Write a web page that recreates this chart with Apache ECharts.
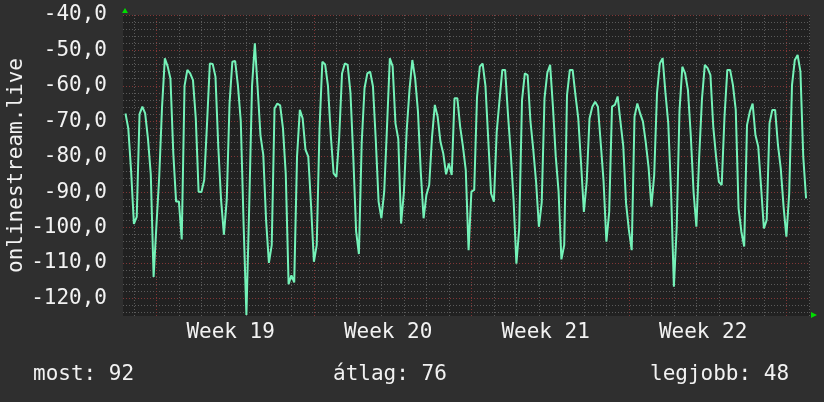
<!doctype html>
<html>
<head>
<meta charset="utf-8">
<title>onlinestream.live</title>
<script src="https://cdn.jsdelivr.net/npm/echarts@6/dist/echarts.min.js"></script>
<style>
    html, body { margin: 0; padding: 0; background: #2f2f2f; }
    #chart { width: 824px; height: 402px; }
</style>
</head>
<body>
<div id="chart"></div>
<script>
// one sample every 3 hours, x in days from the start of week 19
var startDay = -1.375;
var stepDay = 0.125;

// values, split per week
var week18 = [-67.8, -72, -84, -99, -97, -68, -65.9, -67.8, -75, -85, -114];
var week19 = [-99.5, -85.7, -66, -52.2, -54.5, -58, -79, -92.7,
    -92.7, -103.4, -60, -55.5, -56.5, -58.4, -69.2, -89.9,
    -90, -86.6, -70.6, -53.7, -53.8, -57.4, -77.2, -92.3,
    -102, -92.3, -65, -53.2, -53, -60, -70, -99,
    -124.7, -94, -60, -48, -60.7, -74, -79.5, -98,
    -110, -105, -66.4, -65, -65.5, -72, -85, -116,
    -113.5, -115.5, -80, -66.8, -69.2, -78, -80, -94];
var week20 = [-109.7, -105, -72, -53.2, -54, -60, -73.9, -84.7,
    -85.7, -74.4, -56.5, -53.7, -54.1, -62, -80, -101,
    -107.5, -76, -60.7, -56.5, -56, -60.2, -75.3, -92.7,
    -97.4, -89.9, -71.5, -52.2, -54.5, -70.6, -75, -98.9,
    -90, -72.5, -61, -52.7, -57.9, -67.3, -84.3, -97.4,
    -90.8, -88, -74.4, -65.4, -68.7, -75.8, -79.1, -85,
    -81.9, -85.2, -63.5, -63.5, -71.5, -77.2, -83.8, -106.4];
var week21 = [-89.9, -89.4, -63.1, -54.6, -53.7, -60, -75.3, -90.4,
    -92.7, -73, -64, -55.5, -55.5, -68, -79.1, -92.3,
    -110.2, -100.3, -64, -56.5, -57, -70, -78, -87.1,
    -99.8, -93, -63.5, -56.3, -54.1, -66, -80, -89.9,
    -109, -105, -62.6, -55.5, -55.5, -62.6, -69.2, -82,
    -95.6, -87, -69.2, -65.9, -64.5, -65.9, -76.3, -87,
    -104, -95.6, -65.9, -65.4, -63, -70.1, -77, -93.2];
var week22 = [-100.7, -106.4, -68.7, -65, -67.8, -70.1, -76, -83,
    -94.1, -85.2, -62.1, -53.7, -52.2, -62, -70.6, -89.9,
    -116.7, -100, -67, -54.6, -56.5, -61.2, -73.9, -90,
    -99.8, -80, -63.5, -54.1, -55, -57, -71.5, -80,
    -87.1, -88, -68.7, -55.5, -55.5, -59.8, -66.8, -94.6,
    -101.2, -105.4, -71.1, -67.3, -65, -73.9, -77.2, -88.5,
    -100.3, -97.9, -70.6, -66.8, -66.8, -76.7, -83.3, -94.1];
var week23 = [-102.6, -90.4, -59.8, -52.7, -51.3, -56, -80, -91.8];

var weekNames = ['Week 19', 'Week 20', 'Week 21', 'Week 22'];
var weekNamePos = [3.3, 10.3, 17.3, 24.3];
var weekLines = [0, 7, 14, 21, 28];
var dayLines = [-1, 1, 2, 3, 4, 5, 6, 8, 9, 10, 11, 12, 13, 15, 16, 17, 18, 19, 20, 22, 23, 24, 25, 26, 27, 29];
var yMajor = [-120, -110, -100, -90, -80, -70, -60, -50, -40];
var yMinor = [-124, -122, -118, -116, -114, -112, -108, -106, -104, -102, -98, -96, -94, -92,
    -88, -86, -84, -82, -78, -76, -74, -72, -68, -66, -64, -62, -58, -56, -54, -52, -48, -46, -44, -42];
var statNames = ['most', 'átlag', 'legjobb'];
var statValues = [92, 76, 48];

var values = week18.concat(week19, week20, week21, week22, week23);
var points = values.map(function (v, i) { return [startDay + i * stepDay, v]; });

var font = 'DejaVu Sans Mono';
var textColor = '#f2f2f2';
var xMin = -1.485, xMax = 29.05;

var myChart = echarts.init(document.getElementById('chart'));
var option = {
    backgroundColor: '#2f2f2f',
    animation: false,
    grid: {
        left: 123, right: 14, top: 15, bottom: 86, show: true,
        backgroundColor: '#212121', borderWidth: 0, outerBoundsMode: 'none'
    },
    xAxis: [
        {
            type: 'value', min: xMin, max: xMax, position: 'bottom',
            axisLine: {show: false},
            axisTick: {show: false, customValues: dayLines},
            axisLabel: {
                customValues: weekNamePos, color: textColor, fontFamily: font, fontSize: 21, margin: 6,
                formatter: function (v) {
                    for (var k = 0; k < weekNamePos.length; k++) {
                        if (Math.abs(weekNamePos[k] - v) < 0.01) return weekNames[k];
                    }
                    return '';
                }
            },
            splitLine: {show: true, lineStyle: {color: '#5a5a5a', width: 1, type: [1, 2]}}
        },
        {
            type: 'value', min: xMin, max: xMax, position: 'bottom',
            axisLine: {show: false}, axisLabel: {show: false},
            axisTick: {show: false, customValues: weekLines},
            splitLine: {show: true, lineStyle: {color: '#803636', width: 1, type: [1, 2]}}
        }
    ],
    yAxis: [
        {
            type: 'value', min: -125, max: -40,
            axisLine: {show: false},
            axisTick: {show: false, customValues: yMajor},
            axisLabel: {
                customValues: yMajor, color: textColor, fontFamily: font, fontSize: 21, margin: 16,
                formatter: function (v) { return v.toFixed(1).replace('.', ','); }
            },
            splitLine: {show: true, lineStyle: {color: '#803636', width: 1, type: [1, 2]}},
            name: 'onlinestream.live', nameLocation: 'middle', nameGap: 96, nameMoveOverlap: false,
            nameTextStyle: {color: textColor, fontFamily: font, fontSize: 21}
        },
        {
            type: 'value', min: -125, max: -40,
            axisLine: {show: false}, axisLabel: {show: false},
            axisTick: {show: false, customValues: yMinor},
            splitLine: {show: true, lineStyle: {color: '#5a5a5a', width: 1, type: [1, 2]}}
        }
    ],
    series: [{
        type: 'line',
        data: points,
        showSymbol: false,
        lineStyle: {color: '#74f2b8', width: 2},
        z: 5
    }],
    graphic: [
        {type: 'text', left: 33, top: 364, style: {text: statNames[0] + ': ' + statValues[0], fill: textColor, font: '21px "' + font + '"'}},
        {type: 'text', left: 333, top: 364, style: {text: statNames[1] + ': ' + statValues[1], fill: textColor, font: '21px "' + font + '"'}},
        {type: 'text', left: 650, top: 364, style: {text: statNames[2] + ': ' + statValues[2], fill: textColor, font: '21px "' + font + '"'}},
        {type: 'polygon', shape: {points: [[122, 13], [128, 13], [125, 8]]}, style: {fill: '#00dd00'}},
        {type: 'polygon', shape: {points: [[811, 312], [811, 318], [817, 315]]}, style: {fill: '#00dd00'}}
    ]
};
myChart.setOption(option);
</script>
</body>
</html>
